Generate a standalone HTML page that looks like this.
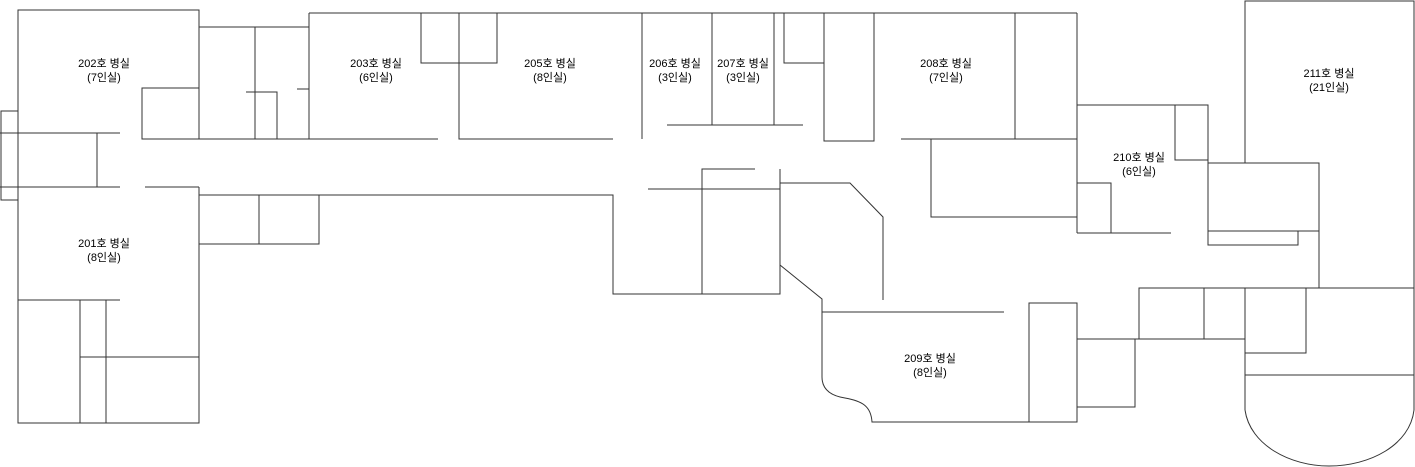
<!DOCTYPE html>
<html><head><meta charset="utf-8"><style>
html,body{margin:0;padding:0;background:#fff;}
svg{display:block;}
text{font-family:"Liberation Sans","Noto Sans CJK KR",sans-serif;font-size:11px;fill:#000;text-anchor:middle;}
</style></head><body>
<svg width="1415" height="467" viewBox="0 0 1415 467" xmlns="http://www.w3.org/2000/svg">
<g fill="none" stroke="#333" stroke-width="1">
<!-- left wing -->
<polyline points="199,139 199,10 18,10 18,423 199,423 199,187"/>
<rect x="142" y="88" width="57" height="51"/>
<line x1="0" y1="133" x2="120" y2="133"/>
<line x1="0" y1="187" x2="120" y2="187"/>
<line x1="145" y1="187" x2="199" y2="187"/>
<line x1="97" y1="133" x2="97" y2="187"/>
<polyline points="18,111 1,111 1,200 18,200"/>
<line x1="18" y1="300" x2="120" y2="300"/>
<line x1="80" y1="300" x2="80" y2="423"/>
<line x1="106" y1="300" x2="106" y2="423"/>
<line x1="80" y1="357" x2="199" y2="357"/>
<!-- corridor north -->
<line x1="142" y1="139" x2="438" y2="139"/>
<polyline points="199,27 309,27"/>
<line x1="309" y1="13" x2="309" y2="139"/>
<line x1="309" y1="13" x2="1077" y2="13"/>
<line x1="255" y1="27" x2="255" y2="139"/>
<polyline points="246,92 277,92 277,139"/>
<line x1="297" y1="89" x2="309" y2="89"/>
<polyline points="421,13 421,63 497,63 497,13"/>
<polyline points="459,13 459,139 613,139"/>
<line x1="642" y1="13" x2="642" y2="139"/>
<line x1="712" y1="13" x2="712" y2="125"/>
<line x1="774" y1="13" x2="774" y2="125"/>
<line x1="667" y1="125" x2="803" y2="125"/>
<polyline points="784,13 784,63 824,63"/>
<rect x="824" y="13" width="50" height="128"/>
<line x1="1015" y1="13" x2="1015" y2="139"/>
<line x1="901" y1="139" x2="1077" y2="139"/>
<polyline points="931,139 931,217 1077,217"/>
<line x1="1077" y1="13" x2="1077" y2="233"/>
<!-- corridor south -->
<polyline points="199,195 613,195 613,294 780,294 780,169"/>
<polyline points="199,244 319,244 319,195"/>
<line x1="259" y1="195" x2="259" y2="244"/>
<polyline points="702,294 702,169 755,169"/>
<line x1="648" y1="189" x2="780" y2="189"/>
<polyline points="780,183 850,183 883,217 883,300"/>
<path d="M780,265 L822,299 L822,377 C822,390 832,396 845,398 C862,401 871,406 872,422 L1077,422 L1077,303 L1029,303 L1029,422"/>
<line x1="822" y1="312" x2="1004" y2="312"/>
<polyline points="1077,339 1135,339 1135,407 1077,407"/>
<!-- 210 -->
<polyline points="1077,105 1208,105 1208,245"/>
<polyline points="1175,105 1175,160 1208,160"/>
<polyline points="1077,183 1111,183 1111,233"/>
<line x1="1077" y1="233" x2="1171" y2="233"/>
<!-- 211 -->
<polyline points="1245,163 1245,1 1414,1 1414,410"/>
<polyline points="1208,163 1319,163 1319,288"/>
<line x1="1208" y1="231" x2="1319" y2="231"/>
<rect x="1208" y="231" width="90" height="14"/>
<polyline points="1135,339 1139,339 1139,288 1414,288"/>
<line x1="1135" y1="339" x2="1245" y2="339"/>
<line x1="1204" y1="288" x2="1204" y2="339"/>
<line x1="1245" y1="288" x2="1245" y2="410"/>
<polyline points="1245,353 1306,353 1306,288"/>
<line x1="1245" y1="375" x2="1414" y2="375"/>
<path d="M1245,410 C1250,445 1290,466 1329,466 C1370,466 1410,445 1414,410"/>
</g>
<text x="104" y="67">202호 병실</text><text x="104" y="81">(7인실)</text>
<text x="104" y="247">201호 병실</text><text x="104" y="261">(8인실)</text>
<text x="376" y="67">203호 병실</text><text x="376" y="81">(6인실)</text>
<text x="550" y="67">205호 병실</text><text x="550" y="81">(8인실)</text>
<text x="675" y="67">206호 병실</text><text x="675" y="81">(3인실)</text>
<text x="743" y="67">207호 병실</text><text x="743" y="81">(3인실)</text>
<text x="946" y="67">208호 병실</text><text x="946" y="81">(7인실)</text>
<text x="1139" y="161">210호 병실</text><text x="1139" y="175">(6인실)</text>
<text x="1329" y="77">211호 병실</text><text x="1329" y="91">(21인실)</text>
<text x="930" y="362">209호 병실</text><text x="930" y="376">(8인실)</text>
</svg>
</body></html>
